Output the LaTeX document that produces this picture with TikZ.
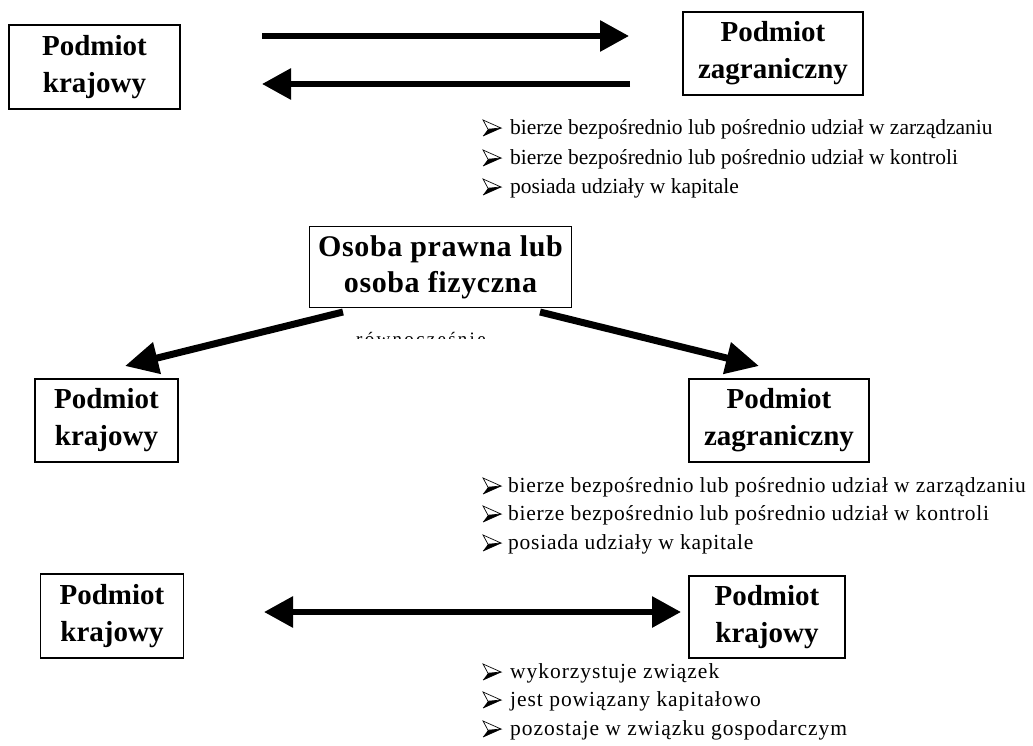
\documentclass[tikz,border=0pt]{standalone}
\usepackage{fontspec}
\setmainfont{Liberation Serif}
\usetikzlibrary{arrows.meta}
\tikzset{
  box/.style={draw=black, line width=1.6pt, align=center, inner sep=0pt,
    font=\fontsize{29}{37}\selectfont\bfseries},
  bigarrow/.style={line width=6pt, -{Triangle[length=29pt,width=30pt]}},
  dblarrow/.style={line width=6pt, {Triangle[length=29pt,width=30pt]}-{Triangle[length=29pt,width=30pt]}},
  diagarrow/.style={line width=7pt, -{Triangle[length=33pt,width=31pt]}},
  item/.style={anchor=base west, inner sep=0pt, font=\fontsize{21.5}{24}\selectfont},
  itemwide/.style={anchor=base west, inner sep=0pt, font=\fontsize{21.5}{24}\selectfont\addfontfeatures{LetterSpace=3.5}},
  itemwider/.style={anchor=base west, inner sep=0pt, font=\fontsize{21.5}{24}\selectfont\addfontfeatures{LetterSpace=4.5}},
  arrbul/.pic={
    \fill[black] (0,8) -- (18,0) -- (5,1.2) -- cycle;
    \draw[line width=0.7pt, fill=white, line join=miter] (0,-8) -- (18,0) -- (5,1.2) -- cycle;
    \draw[line width=0.7pt, line join=miter] (0,8) -- (18,0);
  },
}
\begin{document}
\begin{tikzpicture}[x=1pt,y=-1pt]
\useasboundingbox (0,0) rectangle (1033,746);

% --- section 1 ---
\node[box, minimum width=171pt, minimum height=84pt] (tl) at (94.5,67) {Podmiot\\krajowy};
\node[box, minimum width=180pt, minimum height=83pt] (tr) at (773,53.5) {Podmiot\\zagraniczny};
\coordinate (a1s) at (262,36);
\coordinate (a1e) at (629,36);
\coordinate (a2s) at (630,84);
\coordinate (a2e) at (262,84);
\draw[bigarrow] (a1s) -- (a1e);
\draw[bigarrow] (a2s) -- (a2e);
\pic (b1a) at (483,128) {arrbul};
\pic (b1b) at (483,158) {arrbul};
\pic (b1c) at (483,187) {arrbul};
\node[item] (l1a) at (510,135) {bierze bezpośrednio lub pośrednio udział w zarządzaniu};
\node[item] (l1b) at (510,165) {bierze bezpośrednio lub pośrednio udział w kontroli};
\node[item] (l1c) at (510,194) {posiada udziały w kapitale};

% --- section 2 ---
\node[box, minimum width=262pt, minimum height=81pt, font=\fontsize{30}{36}\selectfont\bfseries\addfontfeatures{LetterSpace=2}] (mid) at (440.5,267) {Osoba prawna lub\\osoba fizyczna};
\node[box, minimum width=143pt, minimum height=83pt] (ml) at (106.5,420.5) {Podmiot\\krajowy};
\node[box, minimum width=180pt, minimum height=83pt] (mr) at (779,420.5) {Podmiot\\zagraniczny};
\coordinate (d1s) at (343,312);
\coordinate (d1e) at (125,366);
\coordinate (d2s) at (540,312);
\coordinate (d2e) at (759,366);
\draw[diagarrow] (d1s) -- (d1e);
\draw[diagarrow] (d2s) -- (d2e);
\begin{scope}
  \clip (340,325) rectangle (500,338.5);
  \node[anchor=base west, inner sep=0pt, font=\fontsize{19}{20}\selectfont\addfontfeatures{LetterSpace=12}] (rown) at (356,345) {równocześnie};
\end{scope}
\pic (b2a) at (483,486) {arrbul};
\pic (b2b) at (483,514) {arrbul};
\pic (b2c) at (483,543) {arrbul};
\node[itemwide] (l2a) at (508,492) {bierze bezpośrednio lub pośrednio udział w zarządzaniu};
\node[itemwide] (l2b) at (508,520) {bierze bezpośrednio lub pośrednio udział w kontroli};
\node[itemwide] (l2c) at (508,549) {posiada udziały w kapitale};

% --- section 3 ---
\node[box, minimum width=143pt, minimum height=84pt] (bl) at (112,616) {Podmiot\\krajowy};
\node[box, minimum width=156pt, minimum height=82pt] (br) at (767,617) {Podmiot\\krajowy};
\coordinate (b1) at (264,612);
\coordinate (b2) at (681,612);
\draw[dblarrow] (b1) -- (b2);
\pic (b3a) at (483,672) {arrbul};
\pic (b3b) at (483,700) {arrbul};
\pic (b3c) at (483,729) {arrbul};
\node[itemwider] (l3a) at (510,678) {wykorzystuje związek};
\node[itemwider] (l3b) at (510,706) {jest powiązany kapitałowo};
\node[itemwider] (l3c) at (510,735) {pozostaje w związku gospodarczym};
\end{tikzpicture}
\end{document}
